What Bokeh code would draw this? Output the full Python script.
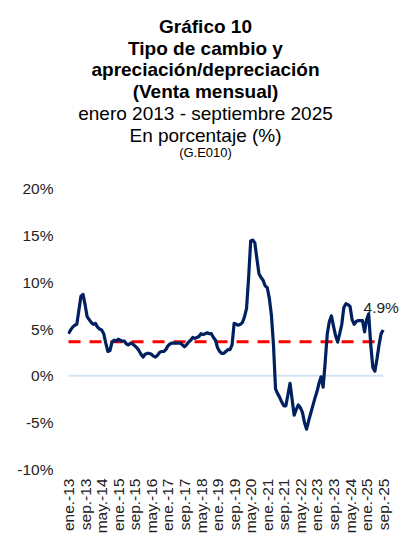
import math
from bokeh.plotting import figure
from bokeh.models import FixedTicker, Label, Range1d
from bokeh.core.properties import value
from bokeh.embed import file_html
from bokeh.resources import INLINE

# monthly appreciation/depreciation (%), enero 2013 - septiembre 2025
v2013 = [4.5, 4.9, 5.2, 5.4, 5.5, 7.0, 8.5, 8.7, 7.6, 6.3, 6.0, 5.7]
v2014 = [5.5, 5.6, 5.2, 5.0, 4.9, 4.5, 3.5, 2.6, 2.7, 3.6, 3.8, 3.7]
v2015 = [3.9, 3.8, 3.7, 3.7, 3.4, 3.3, 3.5, 3.4, 3.2, 3.0, 2.7, 2.3]
v2016 = [2.0, 2.3, 2.4, 2.4, 2.3, 2.1, 2.0, 2.2, 2.5, 2.6, 2.6, 2.8]
v2017 = [3.2, 3.4, 3.5, 3.5, 3.5, 3.5, 3.5, 3.3, 3.1, 3.3, 3.6, 3.8]
v2018 = [4.1, 4.0, 4.1, 4.2, 4.5, 4.4, 4.5, 4.6, 4.5, 4.5, 4.1, 3.8]
v2019 = [3.0, 2.6, 2.4, 2.4, 2.6, 2.8, 2.8, 3.3, 5.6, 5.5, 5.4, 5.5]
v2020 = [5.7, 6.3, 7.2, 10.5, 14.4, 14.5, 14.2, 12.5, 10.9, 10.5, 10.2, 9.6]
v2021 = [9.4, 8.3, 6.5, 3.3, -1.4, -1.9, -2.3, -2.8, -3.2, -3.2, -2.0, -0.8]
v2022 = [-2.5, -4.2, -3.6, -3.1, -3.4, -3.9, -5.0, -5.7, -4.8, -4.0, -3.2, -2.4]
v2023 = [-1.7, -0.8, -0.1, -1.2, 1.5, 4.5, 5.8, 6.4, 5.3, 4.3, 3.6, 4.5]
v2024 = [5.5, 7.3, 7.7, 7.6, 7.4, 6.0, 5.5, 5.8, 5.9, 5.9, 5.9, 4.7]
v2025 = [6.0, 6.6, 3.3, 0.9, 0.5, 1.8, 3.3, 4.5, 4.9]

values = v2013 + v2014 + v2015 + v2016 + v2017 + v2018 + v2019 + v2020 + v2021 + v2022 + v2023 + v2024 + v2025
months = list(range(len(values)))
average = 3.65

x_tick_labels = ["ene.-13", "sep.-13", "may.-14", "ene.-15", "sep.-15", "may.-16", "ene.-17",
                 "sep.-17", "may.-18", "ene.-19", "sep.-19", "may.-20", "ene.-21", "sep.-21",
                 "may.-22", "ene.-23", "sep.-23", "may.-24", "ene.-25", "sep.-25"]
x_tick_step = 8
y_ticks = [-10, -5, 0, 5, 10, 15, 20]
y_tick_labels = ["-10%", "-5%", "0%", "5%", "10%", "15%", "20%"]

title_lines = ["Gráfico 10", "Tipo de cambio y", "apreciación/depreciación", "(Venta mensual)",
               "enero 2013 - septiembre 2025", "En porcentaje (%)", "(G.E010)"]
title_styles = ["bold", "bold", "bold", "bold", "normal", "normal", "normal"]
title_sizes = ["19px", "19px", "19px", "19px", "19px", "19px", "13px"]

# ---------- layout (pixels) ----------
FONT = "Liberation Sans"
W, H = 404, 542
B_LEFT, B_RIGHT, B_TOP, B_BOTTOM = 67, 4, 0, 73
FRAME_W = W - B_LEFT - B_RIGHT
FRAME_H = H - B_TOP - B_BOTTOM
PLOT_H = 281                      # pixel height of the -10%..20% band
PX_PER_MONTH = 2.07
HEADER_CX = 138                   # header centre, px from frame left
HEADER_BASE = [443, 421, 400, 378, 356, 334, 317]   # baselines, px above frame bottom

x_ticks = [i * x_tick_step for i in range(len(x_tick_labels))]
y_lo, y_hi = y_ticks[0], y_ticks[-1]
y_top = y_lo + FRAME_H * (y_hi - y_lo) / PLOT_H
x_lo = months[0] - 0.5
x_hi = x_lo + FRAME_W / PX_PER_MONTH

p = figure(width=W, height=H, x_range=(x_lo, x_hi), y_range=(y_lo, y_top),
           output_backend="svg", toolbar_location=None,
           min_border_left=B_LEFT, min_border_right=B_RIGHT, min_border_top=B_TOP,
           min_border_bottom=B_BOTTOM)
p.outline_line_color = None
p.xgrid.grid_line_color = None
p.ygrid.grid_line_color = None
p.extra_x_ranges = {"hx": Range1d(0, FRAME_W)}
p.extra_y_ranges = {"hy": Range1d(0, FRAME_H)}

# header text
for txt, style, size, yb in zip(title_lines, title_styles, title_sizes, HEADER_BASE):
    p.text(x=[HEADER_CX], y=[yb], text=[txt], text_font=value(FONT), text_font_style=style,
           text_font_size=size, text_align="center", text_baseline="alphabetic",
           text_color="black", x_range_name="hx", y_range_name="hy")

# zero line
p.line([months[0], months[-1]], [0, 0], line_color="#D3E4F4", line_width=2)
# average dashed line
p.line([months[0], months[-1]], [average, average], line_color="#FF0000", line_width=3, line_dash="12 9")
# series
p.line(months, values, line_color="#002060", line_width=3.2, line_join="round")

lab = Label(x=months[-1], y=values[-1], text=f"{values[-1]:.1f}%", text_font=FONT,
            text_font_size="15.5px", text_align="center", text_baseline="alphabetic",
            x_offset=-2, y_offset=22, text_color="#222222")
p.add_layout(lab)

for ax in (p.xaxis[0], p.yaxis[0]):
    ax.axis_line_color = None
    ax.major_tick_line_color = None
    ax.minor_tick_line_color = None
    ax.major_tick_out = 0
    ax.major_tick_in = 0
    ax.major_label_text_font = FONT
    ax.major_label_text_font_size = "15.5px"
    ax.major_label_text_color = "#222222"

p.yaxis[0].ticker = FixedTicker(ticks=y_ticks)
p.yaxis[0].major_label_overrides = {t: l for t, l in zip(y_ticks, y_tick_labels)}
p.yaxis[0].major_label_standoff = 14

p.xaxis[0].ticker = FixedTicker(ticks=x_ticks)
p.xaxis[0].major_label_overrides = {t: l for t, l in zip(x_ticks, x_tick_labels)}
p.xaxis[0].major_label_orientation = math.pi / 2
p.xaxis[0].major_label_standoff = 9

open("out.html", "w").write(file_html(p, INLINE))
